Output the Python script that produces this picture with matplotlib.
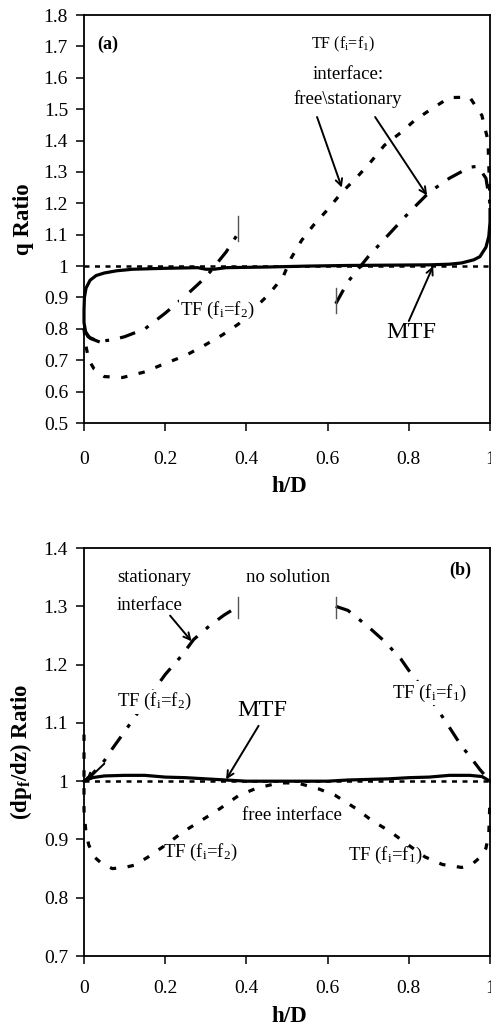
import matplotlib
matplotlib.use('Agg')
import matplotlib.pyplot as plt

plt.rcParams['font.family'] = ['Liberation Serif', 'DejaVu Serif']
plt.rcParams['mathtext.fontset'] = 'custom'
plt.rcParams['mathtext.rm'] = 'Liberation Serif'
plt.rcParams['mathtext.it'] = 'Liberation Serif:italic'
plt.rcParams['mathtext.bf'] = 'Liberation Serif:bold'

# ---- panel (a): q ratio ----
a_mtf_x = [0.035, 0.015, 0.004, 0.0, 0.0, 0.001, 0.005, 0.015, 0.03, 0.05, 0.08, 0.12,
           0.2, 0.28, 0.3, 0.32, 0.35, 0.45, 0.55, 0.65, 0.75, 0.85, 0.9, 0.93, 0.96,
           0.975, 0.99, 0.997, 1.0, 1.0]
a_mtf_y = [0.76, 0.77, 0.79, 0.82, 0.86, 0.9, 0.93, 0.955, 0.97, 0.978, 0.985, 0.99,
           0.993, 0.995, 0.99, 0.99, 0.995, 0.997, 1.0, 1.002, 1.003, 1.004, 1.006, 1.01,
           1.02, 1.03, 1.06, 1.095, 1.14, 1.18]

a_tf2_x = [0.0, 0.01, 0.035, 0.07, 0.1, 0.15, 0.2, 0.25, 0.3, 0.35, 0.38]
a_tf2_y = [0.80, 0.775, 0.76, 0.765, 0.775, 0.80, 0.85, 0.905, 0.965, 1.045, 1.105]

a_tf1_x = [0.62, 0.65, 0.7, 0.75, 0.8, 0.85, 0.9, 0.95, 0.97, 0.99, 1.0]
a_tf1_y = [0.88, 0.95, 1.03, 1.10, 1.17, 1.235, 1.28, 1.315, 1.318, 1.28, 1.2]

a_free_x = [0.0, 0.004, 0.012, 0.025, 0.05, 0.095, 0.15, 0.2, 0.25, 0.3, 0.34, 0.38,
            0.42, 0.455, 0.49, 0.51, 0.536, 0.565, 0.6, 0.635, 0.67, 0.705, 0.74, 0.78,
            0.815, 0.855, 0.9, 0.95, 0.98, 0.995, 1.0]
a_free_y = [0.80, 0.75, 0.70, 0.672, 0.648, 0.645, 0.663, 0.69, 0.715, 0.75, 0.78, 0.815,
            0.865, 0.91, 0.965, 1.025, 1.082, 1.13, 1.18, 1.235, 1.28, 1.33, 1.385, 1.425,
            1.465, 1.50, 1.537, 1.538, 1.48, 1.40, 1.2]

a_cut_x = [0.38, 0.62]
a_cut_lo = [1.08, 0.85]
a_cut_hi = [1.16, 0.93]

# ---- panel (b): pressure gradient ratio ----
b_mtf_x = [0.0, 0.02, 0.05, 0.1, 0.15, 0.2, 0.25, 0.3, 0.35, 0.4, 0.5, 0.6, 0.65, 0.7,
           0.75, 0.8, 0.85, 0.9, 0.95, 0.98, 1.0]
b_mtf_y = [1.0, 1.006, 1.009, 1.01, 1.01, 1.007, 1.006, 1.004, 1.002, 1.0, 1.0, 1.0,
           1.002, 1.003, 1.004, 1.006, 1.007, 1.01, 1.01, 1.008, 1.0]

b_tf2_x = [0.0, 0.02, 0.05, 0.07, 0.1, 0.15, 0.2, 0.24, 0.27, 0.31, 0.345, 0.38]
b_tf2_y = [1.0, 1.012, 1.035, 1.056, 1.085, 1.135, 1.183, 1.215, 1.243, 1.267, 1.285, 1.30]

b_tf1_x = [0.62, 0.65, 0.7, 0.74, 0.78, 0.8, 0.85, 0.89, 0.93, 0.95, 0.975, 1.0]
b_tf1_y = [1.30, 1.293, 1.265, 1.24, 1.21, 1.19, 1.145, 1.103, 1.06, 1.043, 1.02, 1.0]

b_free_x = [0.0, 0.0, 0.005, 0.012, 0.027, 0.045, 0.07, 0.1, 0.125, 0.158, 0.2, 0.244,
            0.29, 0.335, 0.38, 0.425, 0.48, 0.525, 0.577, 0.618, 0.67, 0.708, 0.753, 0.8,
            0.84, 0.883, 0.93, 0.955, 0.975, 0.99, 0.997, 1.0]
b_free_y = [1.08, 0.95, 0.91, 0.89, 0.869, 0.858, 0.85, 0.852, 0.856, 0.87, 0.89, 0.913,
            0.933, 0.953, 0.975, 0.988, 0.997, 0.997, 0.987, 0.976, 0.953, 0.933, 0.914,
            0.89, 0.87, 0.857, 0.852, 0.857, 0.869, 0.885, 0.91, 0.97]

b_cut_x = [0.38, 0.62]
b_cut_lo = [1.28, 1.28]
b_cut_hi = [1.316, 1.316]

ref_x = [0.0, 1.0]
ref_y = [1.0, 1.0]

x_ticks = [0, 0.2, 0.4, 0.6, 0.8, 1]
x_ticklabels = ['0', '0.2', '0.4', '0.6', '0.8', '1']
a_yticks = [0.5, 0.6, 0.7, 0.8, 0.9, 1.0, 1.1, 1.2, 1.3, 1.4, 1.5, 1.6, 1.7, 1.8]
a_yticklabels = ['0.5', '0.6', '0.7', '0.8', '0.9', '1', '1.1', '1.2', '1.3', '1.4',
                 '1.5', '1.6', '1.7', '1.8']
b_yticks = [0.7, 0.8, 0.9, 1.0, 1.1, 1.2, 1.3, 1.4]
b_yticklabels = ['0.7', '0.8', '0.9', '1', '1.1', '1.2', '1.3', '1.4']

TF1 = r'TF (f$_\mathregular{i}$=f$_\mathregular{1}$)'
TF2 = r'TF (f$_\mathregular{i}$=f$_\mathregular{2}$)'

LW = 2.3
DASHDOT = (0, (5, 3.5, 1.2, 3.5))
SQDOT = (0, (2.0, 3.6))
WHITE = dict(facecolor='white', edgecolor='none', pad=1)


def draw_curves(ax, mtf, tf2, tf1, free, cuts):
    '''Draws the reference line, the MTF/TF curves and the no-solution marks.'''
    ax.plot(ref_x, ref_y, color='k', lw=1.8, linestyle=(0, (2, 2.2)), clip_on=False)
    ax.plot(free[0], free[1], color='k', lw=LW, linestyle=SQDOT, clip_on=False)
    ax.plot(tf2[0], tf2[1], color='k', lw=LW, linestyle=DASHDOT, clip_on=False)
    ax.plot(tf1[0], tf1[1], color='k', lw=LW, linestyle=DASHDOT, clip_on=False)
    ax.plot(mtf[0], mtf[1], color='k', lw=LW, clip_on=False)
    for cx, lo, hi in zip(*cuts):
        ax.plot([cx, cx], [lo, hi], color='#555555', lw=1.0)


def style_axes(ax, yticks, yticklabels, xpad):
    ax.set_xlim(0, 1)
    ax.set_xticks(x_ticks)
    ax.set_xticklabels(x_ticklabels)
    ax.set_yticks(yticks)
    ax.set_yticklabels(yticklabels)
    ax.set_ylim(yticks[0], yticks[-1])
    ax.tick_params(axis='both', direction='out', length=5.5, width=1.1, labelsize=14)
    ax.tick_params(axis='x', pad=xpad)
    ax.tick_params(axis='y', pad=6)
    for s in ax.spines.values():
        s.set_linewidth(1.3)


def arrow(ax, start, end):
    ax.annotate('', xy=end, xytext=start,
                arrowprops=dict(arrowstyle='->', color='k', lw=1.4,
                                mutation_scale=12, shrinkA=0, shrinkB=0))


fig = plt.figure(figsize=(4.91, 10.28), dpi=100)

# panel (a)
ax1 = fig.add_axes([0.1711, 0.5885, 0.8269, 0.3969])
draw_curves(ax1, (a_mtf_x, a_mtf_y), (a_tf2_x, a_tf2_y), (a_tf1_x, a_tf1_y),
            (a_free_x, a_free_y), (a_cut_x, a_cut_lo, a_cut_hi))
style_axes(ax1, a_yticks, a_yticklabels, 15)
ax1.text(0.032, 1.705, '(a)', fontsize=13, weight='bold', va='center', ha='left')
ax1.text(0.638, 1.705, TF1, fontsize=11.5, va='center', ha='center')
ax1.text(0.65, 1.61, 'interface:', fontsize=13.5, va='center', ha='center')
ax1.text(0.65, 1.533, 'free\\stationary', fontsize=13.5, va='center', ha='center')
ax1.text(0.236, 0.86, TF2, fontsize=13.5, va='center', ha='left', bbox=WHITE, zorder=5)
ax1.text(0.807, 0.787, 'MTF', fontsize=17.5, va='center', ha='center')
arrow(ax1, (0.574, 1.475), (0.635, 1.25))
arrow(ax1, (0.717, 1.475), (0.845, 1.225))
arrow(ax1, (0.80, 0.825), (0.86, 1.0))

# panel (b)
ax2 = fig.add_axes([0.1711, 0.0700, 0.8269, 0.3969])
draw_curves(ax2, (b_mtf_x, b_mtf_y), (b_tf2_x, b_tf2_y), (b_tf1_x, b_tf1_y),
            (b_free_x, b_free_y), (b_cut_x, b_cut_lo, b_cut_hi))
style_axes(ax2, b_yticks, b_yticklabels, 12)
ax2.text(0.926, 1.362, '(b)', fontsize=13, weight='bold', va='center', ha='center')
ax2.text(0.081, 1.35, 'stationary', fontsize=13.5, va='center', ha='left')
ax2.text(0.081, 1.302, 'interface', fontsize=13.5, va='center', ha='left')
ax2.text(0.40, 1.35, 'no solution', fontsize=13.5, va='center', ha='left')
ax2.text(0.081, 1.136, TF2, fontsize=13.5, va='center', ha='left', bbox=WHITE, zorder=5)
ax2.text(0.438, 1.122, 'MTF', fontsize=17.5, va='center', ha='center')
ax2.text(0.758, 1.151, TF1, fontsize=13.5, va='center', ha='left', bbox=WHITE, zorder=5)
ax2.text(0.512, 0.941, 'free interface', fontsize=13.5, va='center', ha='center')
ax2.text(0.195, 0.878, TF2, fontsize=13.5, va='center', ha='left')
ax2.text(0.65, 0.872, TF1, fontsize=13.5, va='center', ha='left')
arrow(ax2, (0.212, 1.284), (0.265, 1.24))
arrow(ax2, (0.43, 1.095), (0.35, 1.003))
arrow(ax2, (0.05, 1.03), (0.005, 1.0))

# axis titles
fig.text(23 / 491, 1 - 219 / 1028, 'q Ratio', rotation=90, fontsize=16.5,
         weight='bold', ha='center', va='center')
fig.text(289 / 491, 1 - 487 / 1028, 'h/D', fontsize=16.5, weight='bold',
         ha='center', va='center')
fig.text(21 / 491, 1 - 752 / 1028, r'(dp$_\mathregular{f}$/dz) Ratio', rotation=90,
         fontsize=16.5, weight='bold', ha='center', va='center')
fig.text(289 / 491, 1 - 1017 / 1028, 'h/D', fontsize=16.5, weight='bold',
         ha='center', va='center')

fig.savefig('out.png', dpi=100)
